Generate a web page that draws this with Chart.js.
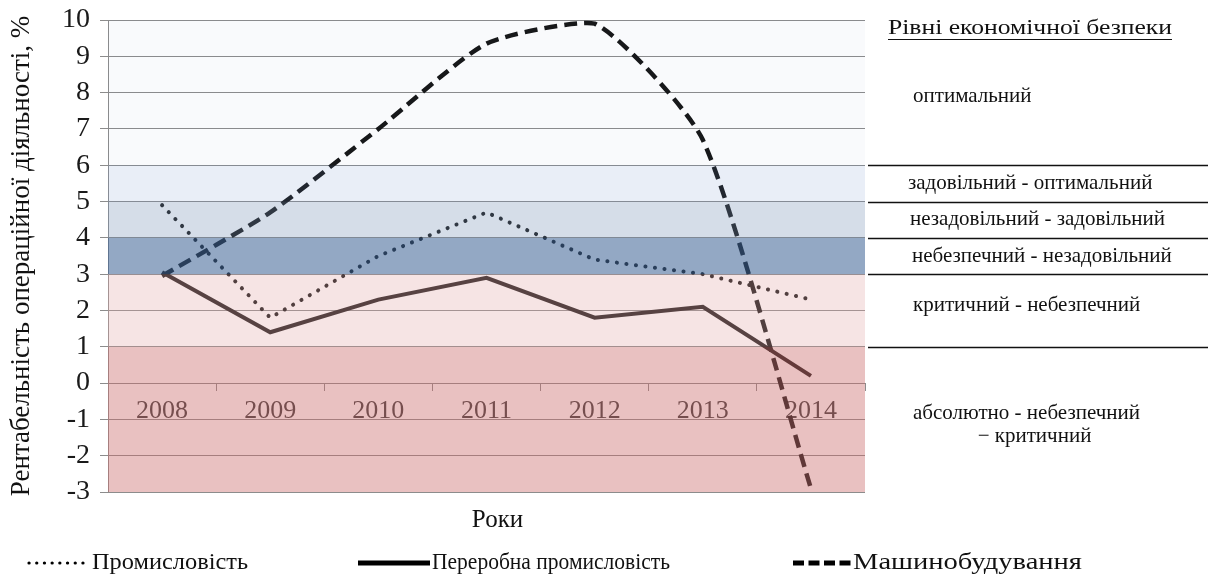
<!DOCTYPE html>
<html><head><meta charset="utf-8">
<script src="https://cdn.jsdelivr.net/npm/chart.js@4.4.1/dist/chart.umd.min.js"></script>
<style>html,body{margin:0;padding:0;background:#fff}#wrap{width:1208px;height:582px;position:relative}</style>
</head><body><div id="wrap"><canvas id="c" width="1208" height="582"></canvas></div>
<script>
const years = ['2008', '2009', '2010', '2011', '2012', '2013', '2014'];
const promyslovist = [4.9, 1.8, 3.5, 4.7, 3.4, 3.0, 2.3];
const pererobna = [3.05, 1.4, 2.3, 2.9, 1.8, 2.1, 0.2];
const mashynobuduvannia = [2.95, 4.7, 7.0, 9.35, 9.9, 6.7, -2.9];
const seriesNames = ['Промисловість', 'Переробна промисловість', 'Машинобудування'];
const yMin = -3, yMax = 10, yStep = 1;
const levelEdges = [-3, 1, 3, 4, 5, 6, 10];
const levelNames = ['абсолютно - небезпечний', 'критичний - небезпечний', 'небезпечний - незадовільний', 'незадовільний - задовільний', 'задовільний - оптимальний', 'оптимальний'];
const levelNameExtra = '− критичний';
const levelsTitle = 'Рівні економічної безпеки';
const xTitle = 'Роки';
const yTitle = 'Рентабельність операційної діяльності, %';

const SERIF = "'Liberation Serif', 'Times New Roman', serif";
const bandFills = ['rgba(203,107,107,0.42)', 'rgba(225,165,165,0.30)', 'rgba(58,97,148,0.55)', 'rgba(115,142,178,0.30)', 'rgba(108,142,202,0.15)', 'rgba(105,130,180,0.04)'];

const bandsPlugin = {
  id: 'bands',
  afterDatasetsDraw(chart) {
    const {ctx, chartArea: a, scales: {y}} = chart;
    ctx.save();
    for (let i = 0; i < levelEdges.length - 1; i++) {
      const y0 = y.getPixelForValue(levelEdges[i + 1]);
      const y1 = y.getPixelForValue(levelEdges[i]);
      ctx.fillStyle = bandFills[i];
      ctx.fillRect(a.left, y0, a.right - a.left, y1 - y0);
    }
    ctx.restore();
  }
};

function fitText(ctx, text, x, y, width) {
  const w = ctx.measureText(text).width;
  ctx.save();
  ctx.translate(x, y);
  ctx.scale(width / w, 1);
  ctx.fillText(text, 0, 0);
  ctx.restore();
}

const extrasPlugin = {
  id: 'extras',
  afterDraw(chart) {
    const {ctx, chartArea: a, scales: {y}} = chart;
    const W = chart.width;
    ctx.save();
    // separator lines on the right
    ctx.strokeStyle = '#111';
    ctx.lineWidth = 1.3;
    for (let i = 1; i < levelEdges.length - 1; i++) {
      const py = Math.round(y.getPixelForValue(levelEdges[i])) + 0.5;
      ctx.beginPath(); ctx.moveTo(a.right + 3, py); ctx.lineTo(W, py); ctx.stroke();
    }
    // level labels
    ctx.fillStyle = '#111';
    ctx.textBaseline = 'middle';
    ctx.font = '21px ' + SERIF;
    ctx.textAlign = 'left';
    const lx = a.right + 48;
    const mid = (i) => (y.getPixelForValue(levelEdges[i]) + y.getPixelForValue(levelEdges[i + 1])) / 2;
    ctx.fillText(levelNames[5], lx, mid(5) + 4);
    ctx.fillText(levelNames[4], lx - 5, mid(4));
    ctx.fillText(levelNames[3], lx - 3, mid(3));
    ctx.fillText(levelNames[2], lx - 1, mid(2));
    ctx.fillText(levelNames[1], lx, mid(1) - 5);
    ctx.fillText(levelNames[0], lx, mid(0) - 6);
    const w0 = ctx.measureText(levelNames[0]).width;
    ctx.textAlign = 'center';
    ctx.fillText(levelNameExtra, lx + w0 / 2 + 8, mid(0) + 17);
    // title
    ctx.font = '22px ' + SERIF;
    ctx.textAlign = 'left';
    const tx = a.right + 23;
    const ty = y.getPixelForValue(yMax) + 8;
    fitText(ctx, levelsTitle, tx, ty, 284);
    ctx.lineWidth = 1.2;
    ctx.beginPath(); ctx.moveTo(tx, ty + 11.5); ctx.lineTo(tx + 284, ty + 11.5); ctx.stroke();
    // x title
    ctx.font = '25px ' + SERIF;
    ctx.textAlign = 'center';
    ctx.fillText(xTitle, (a.left + a.right) / 2 + 11, a.bottom + 28);
    // legend
    const ly = chart.height - 19;
    const items = [
      {x0: 29, x1: 87, tx: 92, tw: 156, lw: 3.2, dash: [0.1, 7.6], cap: 'round'},
      {x0: 358, x1: 430, tx: 432, tw: 238, lw: 5, dash: [], cap: 'butt'},
      {x0: 793, x1: 851, tx: 853, tw: 229, lw: 5, dash: [11, 4.5], cap: 'butt'}
    ];
    ctx.textAlign = 'left';
    ctx.font = '24px ' + SERIF;
    items.forEach((it, i) => {
      ctx.save();
      ctx.strokeStyle = '#000';
      ctx.lineWidth = it.lw;
      ctx.setLineDash(it.dash);
      ctx.lineCap = it.cap;
      ctx.beginPath(); ctx.moveTo(it.x0, ly); ctx.lineTo(it.x1, ly); ctx.stroke();
      ctx.restore();
      ctx.fillStyle = '#111';
      fitText(ctx, seriesNames[i], it.tx, ly, it.tw);
    });
    ctx.restore();
  }
};

new Chart(document.getElementById('c'), {
  type: 'line',
  data: {
    labels: years,
    datasets: [
      {label: seriesNames[0], data: promyslovist, borderColor: '#141414', borderWidth: 4, borderDash: [0.1, 9.5], borderCapStyle: 'round', pointRadius: 0, tension: 0, fill: false},
      {label: seriesNames[1], data: pererobna, borderColor: '#1c1818', borderWidth: 4, pointRadius: 0, tension: 0, fill: false},
      {label: seriesNames[2], data: mashynobuduvannia, borderColor: '#141414', borderWidth: 4.5, borderDash: [13, 7], pointRadius: 0, tension: 0.2, fill: false}
    ]
  },
  options: {
    responsive: false, animation: false, devicePixelRatio: 1,
    layout: {padding: {left: 0, top: 20, right: 343, bottom: 90}},
    plugins: {legend: {display: false}, tooltip: {enabled: false}},
    scales: {
      x: {
        type: 'category', position: {y: 0}, offset: true,
        grid: {drawOnChartArea: false, drawTicks: true, tickLength: 7, color: '#8c8c8c', offset: true},
        border: {color: '#8c8c8c', width: 1},
        ticks: {font: {family: SERIF, size: 26}, color: '#3a3a3a', padding: 5, maxRotation: 0}
      },
      y: {
        min: yMin, max: yMax,
        ticks: {stepSize: yStep, autoSkip: false, font: {family: SERIF, size: 28, lineHeight: 0.7}, color: '#1a1a1a', padding: 10},
        grid: {color: '#8c8c8c', tickLength: 8},
        border: {color: '#8c8c8c'},
        title: {display: true, text: yTitle, font: {family: SERIF, size: 27}, color: '#111', padding: {top: 6, bottom: 0}},
        afterFit(s) { s.width = 108; }
      }
    }
  },
  plugins: [bandsPlugin, extrasPlugin]
});
</script></body></html>
